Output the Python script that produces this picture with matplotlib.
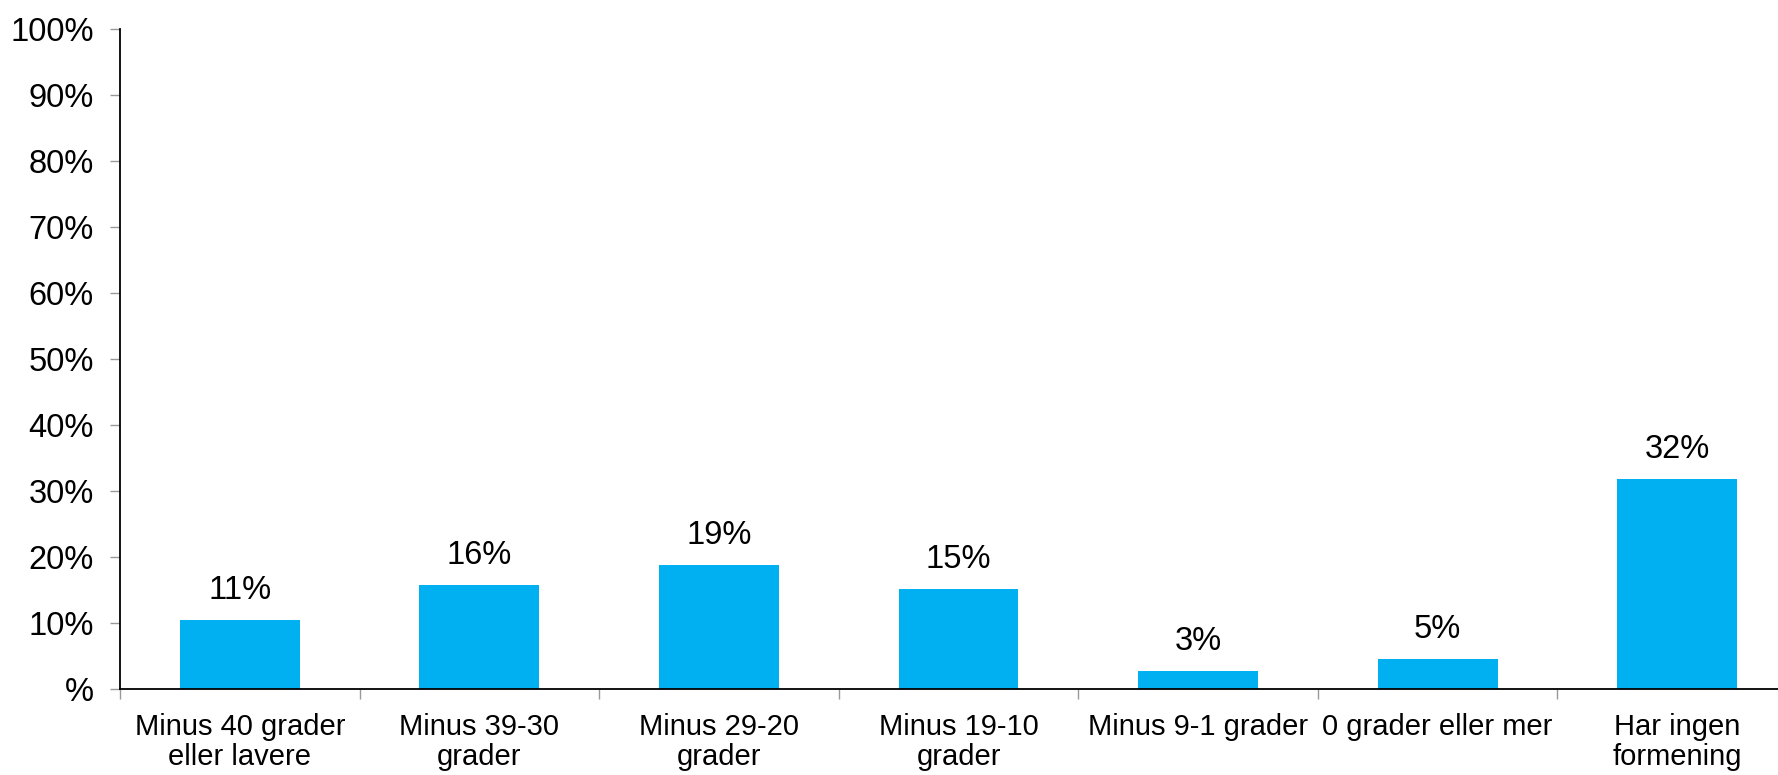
import numpy as np
import matplotlib.pyplot as plt
from matplotlib.ticker import FixedLocator

plt.rcParams['font.family'] = ['Liberation Sans', 'DejaVu Sans']

# Data
categories = ['Minus 40 grader\neller lavere', 'Minus 39-30\ngrader', 'Minus 29-20\ngrader',
              'Minus 19-10\ngrader', 'Minus 9-1 grader', '0 grader eller mer',
              'Har ingen\nformening']
values = [10.5, 15.8, 18.8, 15.2, 2.8, 4.6, 31.8]
labels = ['11%', '16%', '19%', '15%', '3%', '5%', '32%']
yticks = [0, 10, 20, 30, 40, 50, 60, 70, 80, 90, 100]
ytick_labels = ['%'] + [f'{t}%' for t in yticks[1:]]

fig = plt.figure(figsize=(17.78, 7.75), dpi=100)
ax = fig.add_axes([120 / 1778, 1 - 689 / 775, 1677 / 1778, 660 / 775])

x = np.arange(len(categories))
bars = ax.bar(x, values, width=0.5, color='#00B0F0')

# value labels above bars
for b, lab in zip(bars, labels):
    ax.annotate(lab, (b.get_x() + b.get_width() / 2, b.get_height()),
                xytext=(0, 10), textcoords='offset points',
                ha='center', va='bottom', fontsize=23.5)

ax.set_xlim(-0.5, len(categories) - 0.5)
ax.set_ylim(0, 100)
ax.set_yticks(yticks)
ax.set_yticklabels(ytick_labels, fontsize=23.5)
ax.tick_params(axis='y', length=7, color='#999999', width=1, pad=12)

# category labels at centres, tick marks at boundaries
ax.set_xticks(x)
ax.set_xticklabels(categories, fontsize=21, linespacing=1.1)
ax.tick_params(axis='x', which='major', length=0, pad=17)
ax.xaxis.set_minor_locator(FixedLocator(np.arange(len(categories) + 1) - 0.5))
ax.tick_params(axis='x', which='minor', length=7, color='#999999', width=1)

for s in ['top', 'right']:
    ax.spines[s].set_visible(False)
ax.spines['left'].set_linewidth(1.3)
ax.spines['bottom'].set_linewidth(1.3)

fig.savefig('out.png', dpi=100)
